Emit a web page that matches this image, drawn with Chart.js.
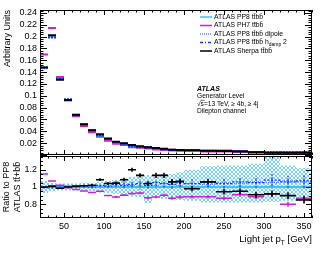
<!DOCTYPE html>
<html>
<head>
<meta charset="utf-8">
<script src="https://cdn.jsdelivr.net/npm/chart.js@4.4.0/dist/chart.umd.min.js"></script>
<style>
html, body { margin: 0; padding: 0; background: #fff; }
#wrap { position: relative; width: 332px; height: 257px; }
#wrap canvas { position: absolute; left: 0; top: 0; }
</style>
</head>
<body>
<div id="wrap">
<canvas id="ratio" width="332" height="257"></canvas>
<canvas id="main" width="332" height="257"></canvas>
</div>
<script>
// bin edges of light jet pT [GeV]
const binEdges = [20, 30, 40, 50, 60, 70, 80, 90, 100, 110, 120, 130, 140, 150, 160, 170, 180, 190, 200, 220, 240, 260, 280, 300, 320, 340, 360];

// upper panel, arbitrary units
const pp8    = [0.148, 0.2005, 0.129, 0.093, 0.0673, 0.0512, 0.0412, 0.0323, 0.0269, 0.0215, 0.0184, 0.0142, 0.0130, 0.0125, 0.0104, 0.0094, 0.0085, 0.0080, 0.0082, 0.0069, 0.0070, 0.0063, 0.0049, 0.0043, 0.0044, 0.0045];
const ph7    = [0.170, 0.2145, 0.1316, 0.092, 0.0653, 0.0489, 0.0385, 0.0307, 0.0242, 0.0190, 0.0167, 0.0131, 0.0121, 0.0109, 0.0092, 0.0085, 0.0074, 0.0071, 0.0073, 0.0061, 0.0061, 0.0057, 0.0043, 0.0040, 0.0035, 0.0039];
const dipole = [0.1465, 0.2005, 0.129, 0.093, 0.068, 0.0512, 0.0416, 0.0323, 0.0274, 0.0217, 0.0190, 0.0145, 0.0130, 0.0129, 0.0106, 0.0098, 0.0088, 0.0082, 0.0085, 0.0071, 0.0074, 0.0066, 0.0052, 0.0045, 0.0047, 0.0048];
const hdamp  = [0.148, 0.1985, 0.129, 0.094, 0.0673, 0.0517, 0.0412, 0.0330, 0.0272, 0.0221, 0.0188, 0.0146, 0.0135, 0.0128, 0.0109, 0.0098, 0.0088, 0.0084, 0.0085, 0.0072, 0.0073, 0.0067, 0.0051, 0.0046, 0.0047, 0.0048];
const sherpa = [0.148, 0.2025, 0.127, 0.093, 0.068, 0.052, 0.042, 0.035, 0.028, 0.0225, 0.0200, 0.0170, 0.0147, 0.0130, 0.0118, 0.0107, 0.0090, 0.0085, 0.0080, 0.0073, 0.0066, 0.0060, 0.0045, 0.0040, 0.0040, 0.0038];

// lower panel, ratio to PP8
const ph7Ratio    = [1.15, 1.07, 1.02, 0.99, 0.97, 0.955, 0.935, 0.95, 0.90, 0.885, 0.905, 0.925, 0.93, 0.875, 0.885, 0.905, 0.87, 0.885, 0.886, 0.886, 0.87, 0.91, 0.886, 0.92, 0.80, 0.87];
const ph7Err      = [0.004, 0.004, 0.005, 0.006, 0.007, 0.008, 0.009, 0.01, 0.011, 0.012, 0.013, 0.014, 0.015, 0.016, 0.017, 0.018, 0.019, 0.02, 0.02, 0.02, 0.022, 0.024, 0.026, 0.028, 0.03, 0.032];
const dipoleRatio = [0.99, 1.0, 1.0, 1.0, 1.01, 1.0, 1.01, 1.0, 1.02, 1.01, 1.03, 1.02, 1.0, 1.03, 1.02, 1.04, 1.03, 1.02, 1.04, 1.03, 1.05, 1.04, 1.06, 1.05, 1.07, 1.06];
const hdampRatio  = [1.0, 0.99, 1.0, 1.01, 1.0, 1.01, 1.0, 1.02, 1.01, 1.03, 1.02, 1.03, 1.04, 1.02, 1.05, 1.04, 1.03, 1.05, 1.04, 1.05, 1.04, 1.06, 1.05, 1.08, 1.06, 1.07];
const hdampErr    = [0.01, 0.01, 0.01, 0.01, 0.012, 0.014, 0.016, 0.018, 0.02, 0.025, 0.03, 0.03, 0.035, 0.04, 0.04, 0.045, 0.05, 0.05, 0.05, 0.05, 0.055, 0.06, 0.06, 0.07, 0.07, 0.08];
const sherpaRatio = [1.0, 1.01, 0.985, 1.0, 1.01, 1.015, 1.02, 1.085, 1.04, 1.045, 1.085, 1.2, 1.135, 1.04, 1.135, 1.135, 1.06, 1.065, 0.98, 1.06, 0.945, 0.95, 0.91, 0.92, 0.90, 0.85];
const sherpaErr   = [0.005, 0.005, 0.006, 0.008, 0.01, 0.012, 0.014, 0.016, 0.018, 0.02, 0.022, 0.024, 0.026, 0.028, 0.03, 0.03, 0.032, 0.032, 0.03, 0.03, 0.032, 0.034, 0.036, 0.038, 0.04, 0.042];
const bandUp      = [1.07, 1.05, 1.04, 1.04, 1.04, 1.05, 1.05, 1.06, 1.07, 1.08, 1.1, 1.12, 1.12, 1.14, 1.12, 1.15, 1.15, 1.17, 1.2, 1.24, 1.25, 1.25, 1.27, 1.40, 1.25, 1.22];
const bandDown    = [0.93, 0.95, 0.96, 0.96, 0.96, 0.95, 0.95, 0.94, 0.93, 0.92, 0.9, 0.89, 0.88, 0.81, 0.88, 0.86, 0.86, 0.85, 0.84, 0.82, 0.82, 0.82, 0.82, 0.83, 0.84, 0.84];
const unity       = binEdges.slice(1).map(() => 1);

const FONT = "'Liberation Sans', Arial, sans-serif";
const C_PP8 = '#3cc4f4', C_PH7 = '#cc22cc', C_DIP = '#5b8cff', C_HD = '#0a3cff';

Chart.defaults.color = '#000';
Chart.defaults.font.family = FONT;
Chart.defaults.font.size = 9;

// horizontal bar per bin (+ optional vertical error), gaps between
function binSegments(vals, errs) {
  const pts = [];
  vals.forEach((v, i) => {
    const lo = binEdges[i], hi = binEdges[i + 1];
    pts.push({x: lo, y: v}, {x: hi, y: v}, {x: hi, y: null});
    if (errs) {
      const c = (lo + hi) / 2;
      pts.push({x: c, y: v - errs[i]}, {x: c, y: v + errs[i]}, {x: c, y: null});
    }
  });
  return pts;
}
function stepLine(vals) {
  const pts = [];
  vals.forEach((v, i) => pts.push({x: binEdges[i], y: v}, {x: binEdges[i + 1], y: v}));
  return pts;
}
function hatch() {
  const c = document.createElement('canvas');
  c.width = 4; c.height = 4;
  const g = c.getContext('2d');
  g.fillStyle = '#7ad4fa';
  for (let i = 0; i < 4; i++) { g.fillRect(i, i, 1, 1); g.fillRect(3 - i, i, 1, 1); }
  return g.createPattern(c, 'repeat');
}

// ROOT style frame with inward ticks on all four sides
const frameTicks = {
  id: 'frameTicks',
  afterDraw(chart, args, o) {
    const {ctx, chartArea: a, scales} = chart;
    ctx.save();
    ctx.strokeStyle = '#000';
    ctx.lineWidth = 1;
    ctx.beginPath();
    function marks(scale, step, len, horiz) {
      const n0 = Math.ceil(scale.min / step - 1e-6), n1 = Math.floor(scale.max / step + 1e-6);
      for (let n = n0; n <= n1; n++) {
        const p = Math.round(scale.getPixelForValue(n * step)) + 0.5;
        if (horiz) {
          ctx.moveTo(p, a.bottom); ctx.lineTo(p, a.bottom - len);
          ctx.moveTo(p, a.top); ctx.lineTo(p, a.top + len);
        } else {
          ctx.moveTo(a.left, p); ctx.lineTo(a.left + len, p);
          ctx.moveTo(a.right, p); ctx.lineTo(a.right - len, p);
        }
      }
    }
    marks(scales.x, o.xStep, o.xLen, true);
    marks(scales.x, o.xMinor, o.xLen / 2, true);
    marks(scales.y, o.yStep, o.yLen, false);
    marks(scales.y, o.yMinor, o.yLen / 2, false);
    ctx.stroke();
    ctx.strokeRect(a.left + 0.5, a.top + 0.5, a.right - a.left - 1, a.bottom - a.top - 1);
    ctx.restore();
  }
};

function drawTitle(ctx, x, y, parts, align) {
  // parts: [text, sub?] pieces, drawn left to right
  ctx.save();
  let w = 0;
  parts.forEach(p => { ctx.font = p.font; w += ctx.measureText(p.t).width; });
  let cx = align === 'right' ? x - w : x;
  parts.forEach(p => {
    ctx.font = p.font;
    ctx.fillText(p.t, cx, y + (p.dy || 0));
    cx += ctx.measureText(p.t).width;
  });
  ctx.restore();
}

const tt = 'tt\u0304bb\u0304';

// legend and ATLAS label in the upper panel
const upperText = {
  id: 'upperText',
  afterDraw(chart) {
    const ctx = chart.ctx;
    ctx.save();
    ctx.fillStyle = '#000';
    ctx.textBaseline = 'middle';
    const f = '6.8px ' + FONT, fs = '5px ' + FONT;
    const rows = [
      {c: C_PP8, d: [], parts: [{t: 'ATLAS PP8 ' + tt, font: f}]},
      {c: C_PH7, d: [], parts: [{t: 'ATLAS PH7 ' + tt, font: f}]},
      {c: C_DIP, d: [1, 1], parts: [{t: 'ATLAS PP8 ' + tt + ' dipole', font: f}]},
      {c: C_HD, d: [3, 2, 1, 2], parts: [{t: 'ATLAS PP8 ' + tt + ' h', font: f}, {t: 'damp', font: fs, dy: 2}, {t: ' 2', font: f}]},
      {c: '#000', d: [], parts: [{t: 'ATLAS Sherpa ' + tt, font: f}]}
    ];
    const ys = [17, 25.5, 34, 42.5, 51];
    rows.forEach((r, i) => {
      ctx.strokeStyle = r.c;
      ctx.lineWidth = 1.5;
      ctx.setLineDash(r.d);
      ctx.beginPath();
      ctx.moveTo(200, ys[i]); ctx.lineTo(212, ys[i]);
      ctx.stroke();
      ctx.setLineDash([]);
      drawTitle(ctx, 214, ys[i], r.parts, 'left');
    });
    ctx.textBaseline = 'alphabetic';
    ctx.font = 'italic bold 7px ' + FONT;
    ctx.fillText('ATLAS', 197, 90.5);
    ctx.font = '6.6px ' + FONT;
    ctx.fillText('Generator Level', 197, 98);
    ctx.fillText('\u221As=13 TeV, \u2265 4b, \u2265 4j', 197, 105.5);
    ctx.fillText('Dilepton channel', 197, 113);
    // overline of sqrt
    ctx.lineWidth = 0.6;
    ctx.beginPath();
    ctx.moveTo(200.5, 100.3); ctx.lineTo(204.5, 100.3);
    ctx.stroke();
    ctx.restore();
  }
};

const xTitle = {
  id: 'xTitle',
  afterDraw(chart) {
    const ctx = chart.ctx;
    ctx.fillStyle = '#000';
    ctx.textBaseline = 'alphabetic';
    const f = '9.6px ' + FONT;
    drawTitle(ctx, chart.chartArea.right, 242, [
      {t: 'Light jet p', font: f}, {t: 'T', font: '6.5px ' + FONT, dy: 2.5}, {t: ' [GeV]', font: f}
    ], 'right');
  }
};

const yFit = s => { s.width = 40; };

function lineDs(data, color, width, dash, extra) {
  return Object.assign({
    data, borderColor: color, borderWidth: width, borderDash: dash || [],
    pointRadius: 0, spanGaps: false, fill: false, tension: 0
  }, extra || {});
}

new Chart(document.getElementById('main'), {
  type: 'line',
  data: {
    datasets: [
      lineDs(binSegments(sherpa), '#000', 2),
      lineDs(binSegments(hdamp), C_HD, 2, [2, 1]),
      lineDs(binSegments(dipole), C_DIP, 2, [1, 1]),
      lineDs(binSegments(ph7), C_PH7, 2),
      lineDs(binSegments(pp8), C_PP8, 2)
    ]
  },
  options: {
    responsive: false,
    animation: false,
    layout: {padding: {left: 0, right: 20, top: 10, bottom: 102}},
    plugins: {
      legend: {display: false},
      tooltip: {enabled: false},
      frameTicks: {xStep: 50, xMinor: 10, xLen: 5, yStep: 0.02, yMinor: 0.004, yLen: 7}
    },
    scales: {
      x: {type: 'linear', min: 20, max: 360, display: false},
      y: {
        min: 0, max: 0.245,
        afterFit: yFit,
        grid: {display: false, drawTicks: false},
        border: {display: false},
        ticks: {stepSize: 0.02, includeBounds: false, padding: 3, autoSkip: false,
          callback: v => v === 0 ? '' : String(+v.toFixed(3))},
        title: {display: true, text: 'Arbitrary Units', align: 'end', font: {size: 9}, padding: {top: 2}}
      }
    }
  },
  plugins: [frameTicks, upperText]
});

new Chart(document.getElementById('ratio'), {
  type: 'line',
  data: {
    datasets: [
      lineDs(binSegments(sherpaRatio, sherpaErr), '#000', 1.6),
      lineDs(binSegments(hdampRatio, hdampErr), C_HD, 1.2, [2, 1.5]),
      lineDs(binSegments(dipoleRatio, hdampErr), C_DIP, 1.2, [1, 1]),
      lineDs(binSegments(ph7Ratio, ph7Err), C_PH7, 1.5),
      lineDs(stepLine(unity), C_PP8, 2),
      lineDs(stepLine(bandUp), 'rgba(0,0,0,0)', 0, [], {fill: '+1', backgroundColor: hatch()}),
      lineDs(stepLine(bandDown), 'rgba(0,0,0,0)', 0)
    ]
  },
  options: {
    responsive: false,
    animation: false,
    layout: {padding: {left: 0, right: 20, top: 156, bottom: 0}},
    plugins: {
      legend: {display: false},
      tooltip: {enabled: false},
      frameTicks: {xStep: 50, xMinor: 10, xLen: 5, yStep: 0.2, yMinor: 0.05, yLen: 6}
    },
    scales: {
      x: {
        type: 'linear', min: 20, max: 360,
        afterFit: s => { s.height = 39; },
        grid: {display: false, drawTicks: false},
        border: {display: false},
        ticks: {stepSize: 50, includeBounds: false, padding: 3, maxRotation: 0, autoSkip: false}
      },
      y: {
        min: 0.64, max: 1.36,
        afterFit: yFit,
        grid: {display: false, drawTicks: false},
        border: {display: false},
        ticks: {stepSize: 0.2, includeBounds: false, padding: 3, autoSkip: false,
          callback: v => String(+v.toFixed(2))},
        title: {display: true, text: ['Ratio to PP8', 'ATLAS ' + 'tt\u0304+bb\u0304'], font: {size: 9}, padding: {top: 1.5}}
      }
    }
  },
  plugins: [frameTicks, xTitle]
});
</script>
</body>
</html>
